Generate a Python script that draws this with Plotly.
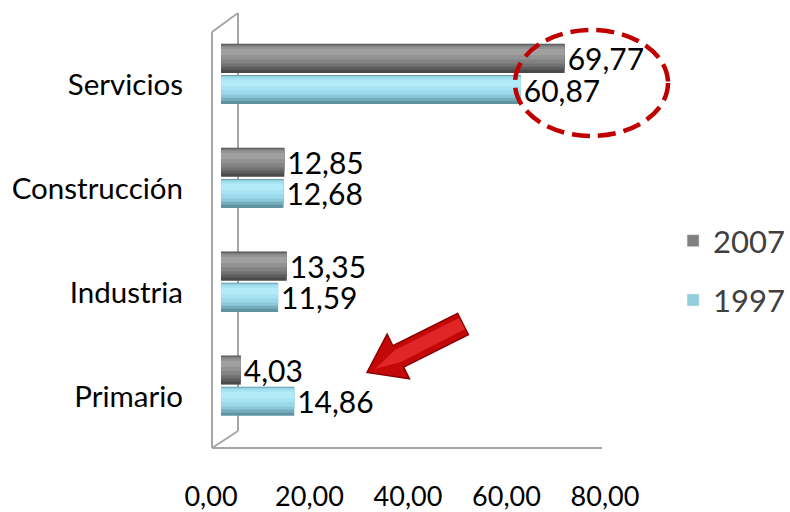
import plotly.graph_objects as go

categories = ["Primario", "Industria", "Construcción", "Servicios"]
values_2007 = [4.03, 13.35, 12.85, 69.77]
values_1997 = [14.86, 11.59, 12.68, 60.87]
labels_2007 = ["4,03", "13,35", "12,85", "69,77"]
labels_1997 = ["14,86", "11,59", "12,68", "60,87"]
x_ticks = [0, 20, 40, 60, 80]
x_tick_labels = ["0,00", "20,00", "40,00", "60,00", "80,00"]

FONT = "Lato"
L, R, T, B = 221, 615, 22, 448


def pxx(x):
    return (x - L) / (R - L)


def pxy(y):
    return (B - y) / (B - T)


fig = go.Figure()


def add_cylinder(values, labels, base_off, layers, name, group):
    for i, (o, w, c) in enumerate(layers):
        fig.add_trace(go.Bar(
            y=categories, x=values, orientation="h",
            offset=base_off + o, width=w,
            marker=dict(color=c, line=dict(width=0)),
            name=name, legendgroup=group,
            showlegend=False,
            text=labels if i == 0 else None,
            textposition="outside" if i == 0 else "none",
            textfont=dict(family=FONT, size=30, color="#000000"),
            constraintext="none",
            cliponaxis=False,
            hoverinfo="skip",
        ))


gray_layers = [
    (0.0, 0.28, "#4a4a4a"),
    (0.03, 0.245, "#5e5e5e"),
    (0.06, 0.21, "#727272"),
    (0.09, 0.175, "#838383"),
    (0.13, 0.12, "#929292"),
    (0.17, 0.06, "#a0a0a0"),
]
blue_layers = [
    (0.0, 0.28, "#5f93a2"),
    (0.03, 0.245, "#76adbd"),
    (0.06, 0.21, "#8cc8d9"),
    (0.09, 0.175, "#9bd9ea"),
    (0.13, 0.12, "#a6e3f3"),
    (0.17, 0.06, "#b3ebf8"),
]

add_cylinder(values_2007, labels_2007, 0.01, gray_layers, "2007", "a")
add_cylinder(values_1997, labels_1997, -0.29, blue_layers, "1997", "b")

# legend entries
fig.add_trace(go.Bar(y=[None], x=[None], orientation="h", name="2007", legendgroup="a",
                     marker=dict(color="#808080"), showlegend=True))
fig.add_trace(go.Bar(y=[None], x=[None], orientation="h", name="1997", legendgroup="b",
                     marker=dict(color="#92cddc"), showlegend=True))

gray = "#a6a6a6"
shapes = []


def line(x0, y0, x1, y1, color=gray, width=2):
    shapes.append(dict(type="line", xref="paper", yref="paper",
                       x0=pxx(x0), y0=pxy(y0), x1=pxx(x1), y1=pxy(y1),
                       line=dict(color=color, width=width), layer="below"))


line(212, 32, 212, 448)
line(238, 13, 238, 431)
line(212, 32, 238, 13)
line(212, 448, 238, 431)
line(212, 448, 602, 448)

# dashed red ellipse
shapes.append(dict(type="circle", xref="paper", yref="paper",
                   x0=pxx(515), x1=pxx(668), y0=pxy(136), y1=pxy(30),
                   line=dict(color="#c00000", width=4.5, dash="18px,8px"),
                   layer="above"))

# red arrow
pts = [(457.6, 313.3), (392.9, 345.7), (387.1, 334.1), (367, 372.5),
       (409.5, 378.8), (403.7, 367.1), (468.4, 334.7)]
path = "M " + " L ".join(f"{pxx(x):.4f},{pxy(y):.4f}" for x, y in pts) + " Z"
shapes.append(dict(type="path", xref="paper", yref="paper", path=path,
                   fillcolor="#c40808", line=dict(color="#8b0000", width=1.5),
                   layer="above"))
pts2 = [(459, 318), (395, 350), (375, 369), (401, 362), (465, 329)]
path2 = "M " + " L ".join(f"{pxx(x):.4f},{pxy(y):.4f}" for x, y in pts2) + " Z"
shapes.append(dict(type="path", xref="paper", yref="paper", path=path2,
                   fillcolor="#e02626", line=dict(width=0), layer="above"))

fig.update_layout(
    width=790, height=512,
    margin=dict(l=L, r=790 - R, t=T, b=512 - B, pad=0, autoexpand=False),
    paper_bgcolor="white", plot_bgcolor="white",
    barmode="overlay",
    shapes=shapes,
    showlegend=True,
    legend=dict(
        xref="container", yref="container", x=0.852, y=0.582,
        xanchor="left", yanchor="top",
        font=dict(family=FONT, size=31, color="#404040"),
        traceorder="grouped", tracegroupgap=16,
        bgcolor="rgba(0,0,0,0)",
    ),
    xaxis=dict(
        range=[0, 80], tickvals=x_ticks, ticktext=x_tick_labels,
        showgrid=False, zeroline=False, showline=False, ticks="",
        automargin=False,
        tickfont=dict(family=FONT, size=27, color="#000000"),
        ticklabelstandoff=30, ticklabelshift=-10,
    ),
    yaxis=dict(
        type="category", categoryorder="array", categoryarray=categories,
        range=[-0.6, 3.5], automargin=False,
        showgrid=False, zeroline=False, showline=False, ticks="",
        tickfont=dict(family=FONT, size=29.5, color="#000000"),
        ticklabelstandoff=37, ticklabelshift=11,
    ),
)

fig.write_html(
    "out.html",
    config={"displayModeBar": False},
    post_script="document.body.style.margin='0';document.body.style.overflow='hidden';",
)
